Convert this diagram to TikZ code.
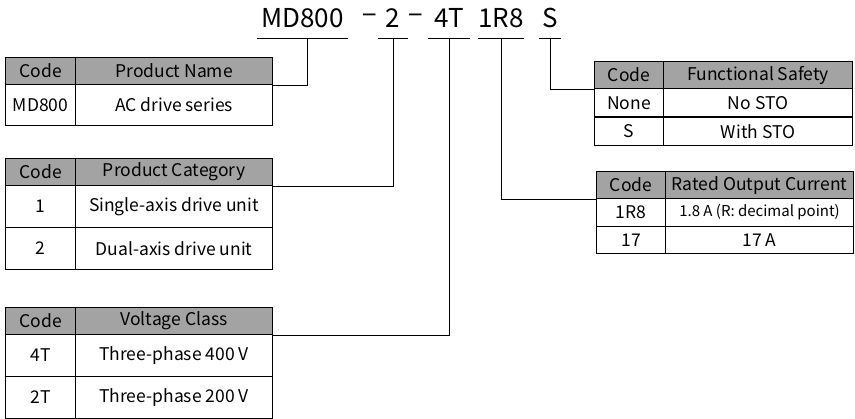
\documentclass[tikz,border=0pt]{standalone}
\usepackage{fontspec}
\setmainfont{Noto Sans CJK SC}

\begin{document}
\begin{tikzpicture}[x=1pt,y=-1pt,line join=miter,
  cell/.style={draw,line width=1.1pt,inner sep=0pt,anchor=north west,
    font=\fontsize{17.5}{20}\selectfont},
  hdr/.style={cell,fill=gray!72},
  code/.style={inner xsep=0pt,inner ysep=10pt,text depth=0pt,anchor=south,
    font=\fontsize{26}{30}\selectfont},
  link/.style={line width=0.9pt}]
  \useasboundingbox (0,0) rectangle (855,419);
  % type code
  \node[code,minimum width=91pt] (tMD) at (302.5,38) {MD800};
  \node[code,yshift=3pt] (d1) at (370,38) {−};
  \node[code,minimum width=30pt] (t2) at (393,38) {2};
  \node[code,yshift=3pt] (d2) at (416,38) {−};
  \node[code,minimum width=42pt] (t4T) at (449,38) {4T};
  \node[code,minimum width=38pt] (t1R8) at (501,38) {1R8};
  \node[code,minimum width=22pt] (tS) at (550,38) {S};
  \foreach \n in {tMD,t2,t4T,t1R8,tS}
    \draw[link] (\n.south west) -- (\n.south east);
  % product name
  \node[hdr,minimum width=70pt,minimum height=27pt] (pnH1) at (5,57) {Code};
  \node[hdr,minimum width=197pt,minimum height=27pt] (pnH2) at (75,57) {Product Name};
  \node[cell,minimum width=70pt,minimum height=41pt] (pnA1) at (5,84) {MD800};
  \node[cell,minimum width=197pt,minimum height=41pt] (pnA2) at (75,84) {AC drive series};
  % product category
  \node[hdr,minimum width=70pt,minimum height=27pt] (pcH1) at (5,158) {Code};
  \node[hdr,minimum width=197pt,minimum height=27pt] (pcH2) at (75,158) {Product Category};
  \node[cell,minimum width=70pt,minimum height=42pt] (pcA1) at (5,185) {1};
  \node[cell,minimum width=197pt,minimum height=42pt] (pcA2) at (75,185) {Single-axis drive unit};
  \node[cell,minimum width=70pt,minimum height=42pt] (pcB1) at (5,227) {2};
  \node[cell,minimum width=197pt,minimum height=42pt] (pcB2) at (75,227) {Dual-axis drive unit};
  % voltage class
  \node[hdr,minimum width=70pt,minimum height=27pt] (vcH1) at (5,307) {Code};
  \node[hdr,minimum width=197pt,minimum height=27pt] (vcH2) at (75,307) {Voltage Class};
  \node[cell,minimum width=70pt,minimum height=42pt] (vcA1) at (5,334) {4T};
  \node[cell,minimum width=197pt,minimum height=42pt] (vcA2) at (75,334) {Three-phase 400 V};
  \node[cell,minimum width=70pt,minimum height=42pt] (vcB1) at (5,376) {2T};
  \node[cell,minimum width=197pt,minimum height=42pt] (vcB2) at (75,376) {Three-phase 200 V};
  % functional safety
  \node[hdr,minimum width=69pt,minimum height=27pt] (fsH1) at (594,61) {Code};
  \node[hdr,minimum width=189pt,minimum height=27pt] (fsH2) at (663,61) {Functional Safety};
  \node[cell,minimum width=69pt,minimum height=28.5pt] (fsA1) at (594,88) {None};
  \node[cell,minimum width=189pt,minimum height=28.5pt] (fsA2) at (663,88) {No STO};
  \node[cell,minimum width=69pt,minimum height=28.5pt] (fsB1) at (594,116.5) {S};
  \node[cell,minimum width=189pt,minimum height=28.5pt] (fsB2) at (663,116.5) {With STO};
  % rated output current
  \node[hdr,minimum width=69pt,minimum height=27pt] (rcH1) at (596,171) {Code};
  \node[hdr,minimum width=188pt,minimum height=27pt] (rcH2) at (665,171) {Rated Output Current};
  \node[cell,minimum width=69pt,minimum height=28pt] (rcA1) at (596,198) {1R8};
  \node[cell,minimum width=188pt,minimum height=28pt,font=\fontsize{15}{18}\selectfont] (rcA2) at (665,198) {1.8 A (R: decimal point)};
  \node[cell,minimum width=69pt,minimum height=27pt] (rcB1) at (596,226) {17};
  \node[cell,minimum width=188pt,minimum height=27pt] (rcB2) at (665,226) {17 A};
  % connectors
  \draw[link] (pnH2.south east) -| ([xshift=5pt]tMD.south);
  \draw[link] (pcH2.south east) -| (t2.south);
  \draw[link] (vcH2.south east) -| (t4T.south);
  \draw[link] (rcH1.south west) -| (t1R8.south);
  \draw[link] (fsH1.south west) -| (tS.south);
\end{tikzpicture}
\end{document}
